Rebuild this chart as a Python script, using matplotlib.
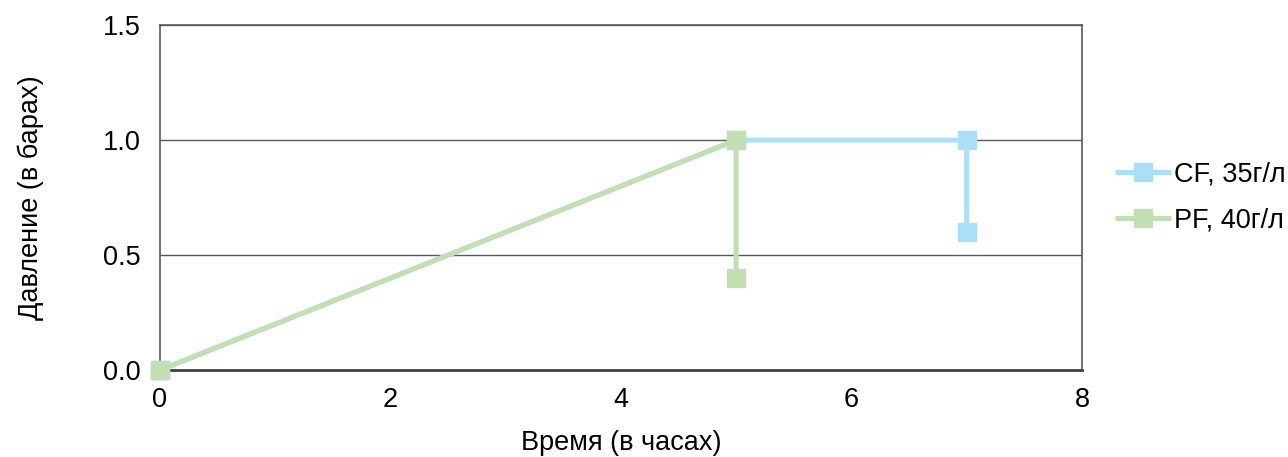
import matplotlib.pyplot as plt

plt.rcParams['font.family'] = ['Liberation Sans', 'DejaVu Sans']

# данные
cf_time = [0, 5, 7, 7]
cf_pressure = [0.0, 1.0, 1.0, 0.6]
pf_time = [0, 5, 5]
pf_pressure = [0.0, 1.0, 0.4]
x_ticks = [0, 2, 4, 6, 8]
y_ticks = [0.0, 0.5, 1.0, 1.5]

cf_color = '#ABDEF7'
pf_color = '#C2DFB3'
fs = 19.5

fig = plt.figure(figsize=(12.88, 4.57), dpi=100)
ax = fig.add_axes([0.124, 0.19, 0.716, 0.755])

ax.plot(cf_time, cf_pressure, color=cf_color, lw=3.6, marker='s', ms=13,
        label='CF, 35г/л', solid_capstyle='butt', zorder=3, clip_on=False)
ax.plot(pf_time, pf_pressure, color=pf_color, lw=3.6, marker='s', ms=13,
        label='PF, 40г/л', solid_capstyle='butt', zorder=4, clip_on=False)

ax.set_xlim(0, 8)
ax.set_ylim(0, 1.5)
ax.set_xticks(x_ticks)
ax.set_yticks(y_ticks)
ax.set_yticklabels([f'{v:.1f}' for v in y_ticks])
ax.tick_params(length=0, labelsize=fs, colors='black')
ax.tick_params(axis='y', pad=14)
ax.tick_params(axis='x', pad=12)

ax.yaxis.grid(True, color='#595959', lw=1)
ax.set_axisbelow(True)
for side in ['top', 'right', 'left']:
    ax.spines[side].set_color('#595959')
    ax.spines[side].set_linewidth(1.2)
ax.spines['bottom'].set_color('#404040')
ax.spines['bottom'].set_linewidth(2)

ax.set_xlabel('Время (в часах)', fontsize=fs, labelpad=12)
ax.set_ylabel('Давление (в барах)', fontsize=fs, labelpad=42)

ax.legend(loc='center left', bbox_to_anchor=(1.036, 0.50), frameon=False,
          fontsize=fs, handlelength=2.05, handletextpad=0.12, labelspacing=0.75,
          borderaxespad=0, borderpad=0)

fig.savefig('out.png', dpi=100)
